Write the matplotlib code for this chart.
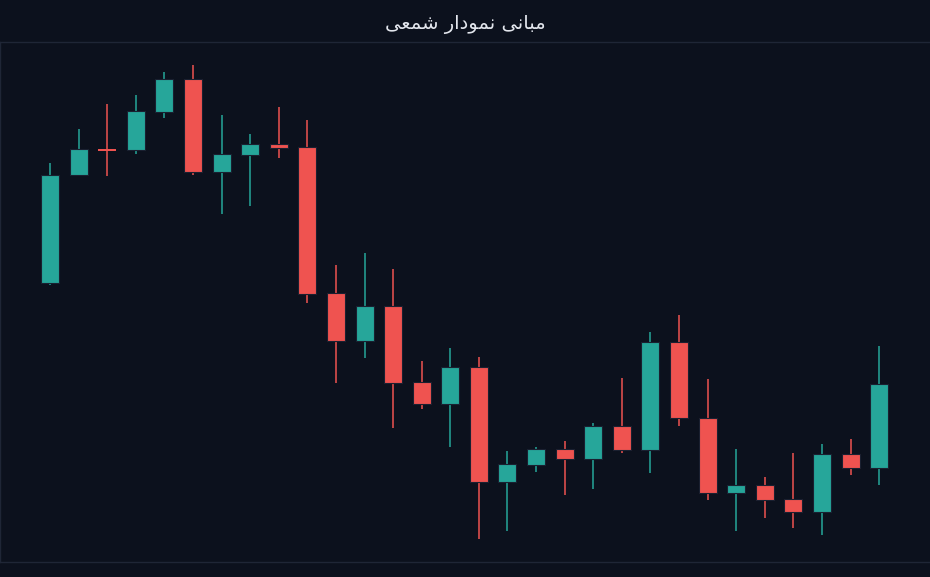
import matplotlib
matplotlib.use("Agg")
import matplotlib.pyplot as plt
from matplotlib.patches import Rectangle

BG = "#0c111d"
UP = "#26a69a"
DOWN = "#ef5350"
GRID = "#1f2636"

TITLE = "مبانی نمودار شمعی"

# candle values (arbitrary price units)
opens = [317, 424, 450, 449, 487, 520, 427, 444, 455, 452,
         307, 259, 294, 218, 196, 233, 118, 135, 151, 141,
         174, 150, 258, 182, 107, 115, 101, 88, 146, 132]
highs = [436, 470, 495, 504, 527, 534, 484, 465, 492, 479,
         334, 346, 331, 239, 252, 243, 149, 153, 159, 177,
         222, 268, 285, 221, 151, 123, 147, 156, 161, 254]
lows = [315, 423, 423, 445, 481, 424, 385, 393, 441, 297,
        217, 242, 172, 191, 153, 61, 69, 128, 105, 111,
        147, 127, 174, 100, 69, 82, 72, 65, 125, 115]
closes = [424, 450, 449, 488, 520, 427, 445, 455, 451, 306,
          259, 294, 217, 196, 233, 118, 136, 151, 141, 174,
          150, 258, 182, 107, 115, 100, 88, 146, 132, 216]


# tiny arabic/persian shaper, matplotlib has no complex text layout
FORMS = {
    # isolated, final, initial, medial
    "م": ("\ufee1", "\ufee2", "\ufee3", "\ufee4"),
    "ب": ("\ufe8f", "\ufe90", "\ufe91", "\ufe92"),
    "ن": ("\ufee5", "\ufee6", "\ufee7", "\ufee8"),
    "ش": ("\ufeb5", "\ufeb6", "\ufeb7", "\ufeb8"),
    "ع": ("\ufec9", "\ufeca", "\ufecb", "\ufecc"),
    "ی": ("\ufbfc", "\ufbfd", "\ufbfe", "\ufbff"),
    "ا": ("\ufe8d", "\ufe8e", None, None),
    "و": ("\ufeed", "\ufeee", None, None),
    "د": ("\ufea9", "\ufeaa", None, None),
    "ر": ("\ufead", "\ufeae", None, None),
}


def joins_next(ch):
    return ch in FORMS and FORMS[ch][2] is not None


def shape(text):
    out = []
    for i, ch in enumerate(text):
        if ch not in FORMS:
            out.append(ch)
            continue
        prev = text[i - 1] if i > 0 else ""
        nxt = text[i + 1] if i + 1 < len(text) else ""
        from_prev = joins_next(prev)
        to_next = joins_next(ch) and nxt in FORMS
        iso, fin, ini, med = FORMS[ch]
        if from_prev and to_next:
            out.append(med)
        elif from_prev:
            out.append(fin)
        elif to_next:
            out.append(ini)
        else:
            out.append(iso)
    return "".join(reversed(out))


fig = plt.figure(figsize=(9.3, 5.77), dpi=100, facecolor=BG)
ax = fig.add_axes([0.0, 0.026, 1.0, 0.901])
ax.set_facecolor(BG)

body_w = 0.63
for i, (o, h, l, c) in enumerate(zip(opens, highs, lows, closes)):
    col = UP if c >= o else DOWN
    ax.vlines(i, l, h, color=col, linewidth=1.1, zorder=2)
    bottom = min(o, c)
    height = abs(c - o)
    if height < 3:
        # doji: thin bar, no dark outline
        ax.add_patch(Rectangle((i - body_w / 2, bottom - 0.5), body_w, max(height, 1.5),
                               facecolor=col, edgecolor="none", zorder=3))
    else:
        ax.add_patch(Rectangle((i - body_w / 2, bottom), body_w, height,
                               facecolor=col, edgecolor="#1a2030", linewidth=0.8, zorder=3))

ax.set_xlim(-1.75, 30.78)
ax.set_ylim(38, 557)
ax.set_xticks([])
ax.set_yticks([])
for side in ["left", "top", "bottom"]:
    ax.spines[side].set_color(GRID)
    ax.spines[side].set_linewidth(1)
ax.spines["right"].set_visible(False)

fig.text(0.5, 1 - 24 / 577, shape(TITLE), ha="center", va="center",
         color="#e3e6ed", fontsize=14, family=["DejaVu Sans"])

fig.savefig("out.png", dpi=100, facecolor=BG)
